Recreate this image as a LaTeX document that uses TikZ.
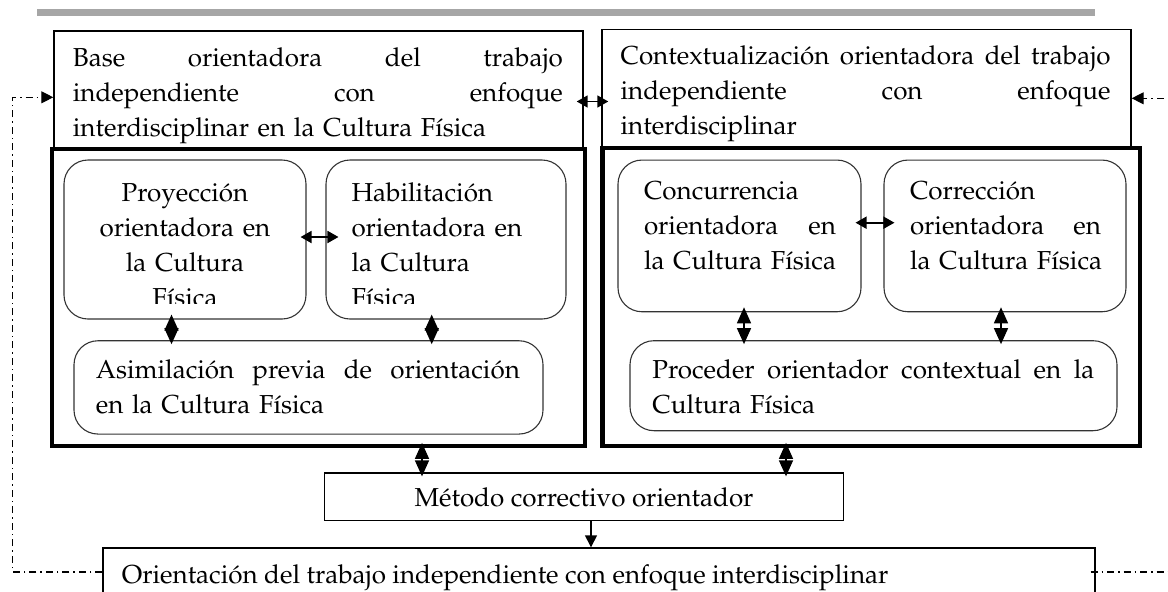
\documentclass[tikz,border=0pt]{standalone}
\usepackage[T1]{fontenc}
\usepackage{mathpazo}
\usetikzlibrary{arrows.meta}

\begin{document}
\begin{tikzpicture}[x=1pt,y=-1pt,
    box/.style={draw, line width=1.4pt, inner sep=0pt},
    groupbox/.style={draw, line width=4.2pt, inner sep=0pt},
    roundbox/.style={draw=black!80, line width=1.1pt, rounded corners=24pt, inner sep=0pt},
    txt/.style={inner sep=0pt, align=left, font=\fontsize{26}{35}\selectfont},
    dbl/.style={{Triangle[length=11pt,width=12pt]}-{Triangle[length=11pt,width=12pt]}, line width=1.8pt},
    vdbl/.style={{Triangle[length=16pt,width=14pt]}-{Triangle[length=16pt,width=14pt]}, line width=1.4pt, shorten <=-5pt, shorten >=-4pt},
    feedback/.style={line width=1.1pt, dash pattern=on 7pt off 4pt on 1.5pt off 4pt},
  ]
  \useasboundingbox (0,0) rectangle (1168,592);
  \clip (0,0) rectangle (1168,592);

  % Header rule
  \fill[gray!70] (37,9) rectangle (1095,16);

  % Group frames
  \node[groupbox, minimum width=533pt, minimum height=296.7pt] (leftgroup) at (318.5,297.4) {};
  \node[groupbox, minimum width=537.5pt, minimum height=297.7pt] (rightgroup) at (871.3,296.9) {};

  % Top boxes
  \node[box, minimum width=529pt, minimum height=118pt] (base) at (318.5,90) {};
  \node[box, minimum width=529pt, minimum height=118.4pt] (context) at (866.5,88.5) {};
  \node[txt, text width=490pt, anchor=base west] (basetxt) at (72.7,66.5)
    {Base\hfill orientadora\hfill del\hfill trabajo\\ independiente\hfill con\hfill enfoque\\ interdisciplinar en la Cultura Física};
  \node[txt, text width=490pt, anchor=base west] (contexttxt) at (620.4,64.5)
    {Contextualización\hfill orientadora\hfill del\hfill trabajo\\ independiente\hfill con\hfill enfoque\\ interdisciplinar};

  % Inner components
  \node[roundbox, minimum width=242pt, minimum height=159pt] (proy) at (185,239.5) {};
  \node[roundbox, minimum width=240pt, minimum height=159pt] (habil) at (446,239.5) {};
  \node[roundbox, minimum width=243pt, minimum height=151.7pt] (concur) at (739.5,235.9) {};
  \node[roundbox, minimum width=242pt, minimum height=151.7pt] (correc) at (1005,235.9) {};
  \node[roundbox, minimum width=469pt, minimum height=93.3pt] (asim) at (308.5,387.4) {};
  \node[roundbox, minimum width=487pt, minimum height=90pt] (proced) at (873.5,385.7) {};

  \begin{scope}
    \clip (60,160) rectangle (570,303);
    \node[txt, align=center, text width=240pt, anchor=base] (proytxt) at (185,201.5)
      {Proyección\\ orientadora en\\ la Cultura\\ Física};
    \node[txt, text width=200pt, anchor=base west] (habiltxt) at (351.3,201.5)
      {Habilitación\\ orientadora en\\ la Cultura\\ Física};
  \end{scope}
  \node[txt, text width=192pt, anchor=base west] (concurtxt) at (643.8,199.5)
    {Concurrencia\\ orientadora\hfill en\\ \mbox{la Cultura Física}};
  \node[txt, text width=191pt, anchor=base west] (correctxt) at (909.8,199.5)
    {Corrección\\ orientadora\hfill en\\ \mbox{la Cultura Física}};
  \node[txt, text width=424pt, anchor=base west] (asimtxt) at (95.7,378)
    {Asimilación\hfill previa\hfill de\hfill orientación\\ en la Cultura Física};
  \node[txt, text width=442pt, anchor=base west] (procedtxt) at (652.2,378)
    {Proceder\hfill orientador\hfill contextual\hfill en\hfill la\\ Cultura Física};

  % Method and result
  \node[box, minimum width=519pt, minimum height=47.7pt] (metodo) at (584,496.9) {};
  \node[txt, anchor=base] (metodotxt) at (584,506.5) {Método correctivo orientador};
  \node[box, minimum width=992pt, minimum height=48pt] (orient) at (599,572) {};
  \node[txt, anchor=base west] (orienttxt) at (121.7,583)
    {Orientación del trabajo independiente con enfoque interdisciplinar};

  % Relations
  \draw[dbl, shorten <=-7pt, shorten >=-7pt] ([yshift=-11.5pt]base.east) -- ([yshift=-11.5pt]base.east -| context.west);
  \draw[dbl, shorten <=-6pt, shorten >=-13pt] ([yshift=2.5pt]proy.east) -- ([yshift=2.5pt]proy.east -| habil.west);
  \draw[dbl, shorten <=-6pt, shorten >=-11pt] ([yshift=13.2pt]concur.east) -- ([yshift=13.2pt]concur.east -| correc.west);
  \draw[vdbl] ([xshift=-13.5pt]proy.south) -- ([xshift=-13.5pt]proy.south |- asim.north);
  \draw[vdbl] ([xshift=-14.3pt]habil.south) -- ([xshift=-14.3pt]habil.south |- asim.north);
  \draw[vdbl] ([xshift=4.5pt]concur.south) -- ([xshift=4.5pt]concur.south |- proced.north);
  \draw[vdbl] ([xshift=-4pt]correc.south) -- ([xshift=-4pt]correc.south |- proced.north);
  \draw[vdbl] ([xshift=103.5pt]leftgroup.south) -- ([xshift=103.5pt]leftgroup.south |- metodo.north);
  \draw[vdbl] ([xshift=-85.3pt]rightgroup.south) -- ([xshift=-85.3pt]rightgroup.south |- metodo.north);
  \draw[-{Triangle[length=12pt,width=12pt]}, line width=1.4pt] ([xshift=7pt]metodo.south) -- ([xshift=7pt]metodo.south |- orient.north);

  % Feedback loops
  \coordinate (leftfar) at (12.6,0);
  \coordinate (rightfar) at (1180,0);
  \draw[feedback, -{Triangle[length=12pt,width=12pt]}] (orient.west) -- (orient.west -| leftfar)
    -- ([yshift=-7.3pt]base.west -| leftfar) -- ([yshift=-7.3pt]base.west);
  \draw[feedback] ([xshift=-5pt]orient.east) -- (orient.east -| rightfar);
  \draw[feedback, -{Triangle[length=12pt,width=12pt]}] ([yshift=-9.8pt]context.east -| rightfar) -- ([yshift=-9.8pt]context.east);
\end{tikzpicture}
\end{document}
